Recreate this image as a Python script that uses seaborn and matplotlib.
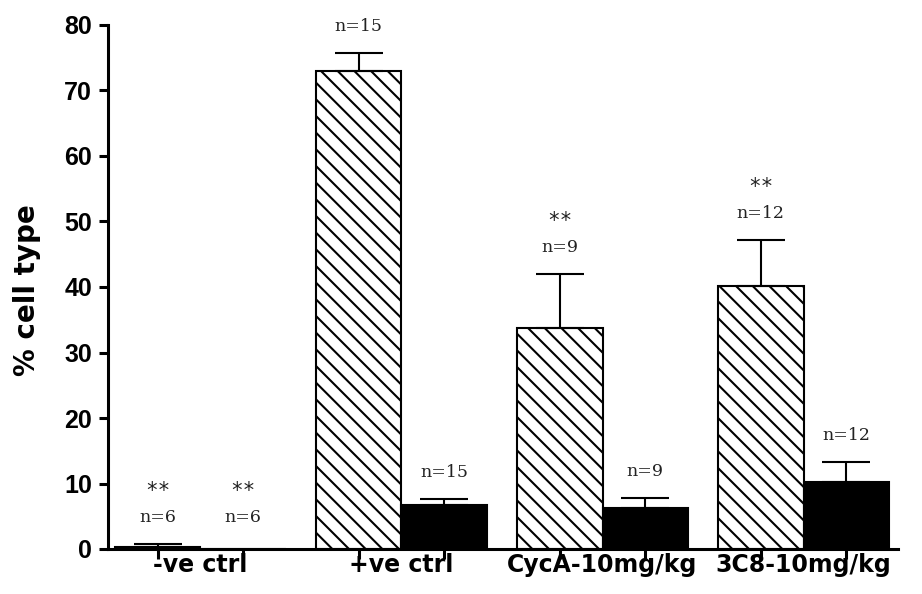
import matplotlib
matplotlib.use("Agg")
import matplotlib.pyplot as plt
import numpy as np
import pandas as pd
import seaborn as sns

# Treatment groups along the x axis
treatments = ["-ve ctrl", "+ve ctrl", "CycA-10mg/kg", "3C8-10mg/kg"]
# Two cell populations per treatment (hatched and solid bars)
series = ["population 1", "population 2"]

# Mean % of cells and upper error (SEM) for each population
pct_hatched = [0.3, 73.0, 33.7, 40.2]
pct_solid = [0.0, 6.7, 6.3, 10.2]
sem_hatched = [0.4, 2.7, 8.3, 7.0]
sem_solid = [0.0, 0.9, 1.5, 3.1]

# Sample sizes and significance markers shown above the bars
n_hatched = [6, 15, 9, 12]
n_solid = [6, 15, 9, 12]
sig_hatched = ["**", "", "**", "**"]
sig_solid = ["**", "", "", ""]

yticks = list(range(0, 81, 10))

df = pd.DataFrame({
    "treatment": treatments + treatments,
    "series": [series[0]] * len(treatments) + [series[1]] * len(treatments),
    "pct": pct_hatched + pct_solid,
})

sns.set_style("ticks")
plt.rcParams["font.family"] = ["DejaVu Sans"]
plt.rcParams["text.color"] = "black"
plt.rcParams["axes.labelcolor"] = "black"
plt.rcParams["xtick.color"] = "black"
plt.rcParams["ytick.color"] = "black"
plt.rcParams["hatch.linewidth"] = 1.5
plt.rcParams["hatch.color"] = "black"

fig = plt.figure(figsize=(9.22, 5.94), dpi=100)
ax = fig.add_axes([108 / 922, 1 - 549 / 594, 790 / 922, 524 / 594])

sns.barplot(
    data=df, x="treatment", y="pct", hue="series",
    order=treatments, hue_order=series,
    palette=["white", "black"], saturation=1,
    width=0.85, errorbar=None, edgecolor="black", linewidth=1.5,
    legend=False, ax=ax,
)

sems = [sem_hatched, sem_solid]
ns = [n_hatched, n_solid]
sigs = [sig_hatched, sig_solid]
bar_centers = []

bar_containers = list(ax.containers)
for k, container in enumerate(bar_containers):
    for i, bar in enumerate(container):
        if k == 0:
            bar.set_hatch("\\\\")
        bar.set_edgecolor("black")
        xc = bar.get_x() + bar.get_width() / 2
        h = bar.get_height()
        bar_centers.append(xc)
        err = sems[k][i]
        if err > 0:
            ax.errorbar([xc], [h], yerr=[[0], [err]], fmt="none",
                        ecolor="black", elinewidth=1.5, capsize=17,
                        capthick=1.5, zorder=1)
        # labels sit just above the error cap (or above the axis line)
        top = max(h + err, 0.8)
        ax.annotate(f"n={ns[k][i]}", (xc, top), xytext=(0, 19),
                    textcoords="offset points", ha="center", va="center",
                    fontfamily="DejaVu Serif", fontsize=12.5,
                    color="#222222", annotation_clip=False)
        if sigs[k][i]:
            ax.annotate(sigs[k][i], (xc, top), xytext=(0, 38),
                        textcoords="offset points", ha="center", va="center",
                        fontfamily="DejaVu Sans Mono", fontsize=15,
                        color="#222222", annotation_clip=False)

ax.set_xlim(-0.46, 3.47)
ax.set_ylim(0, 80)

ax.set_xticks(range(len(treatments)))
ax.set_xticklabels(treatments, fontfamily="DejaVu Sans",
                   fontweight="bold", fontsize=17)
ax.set_xticks(sorted(bar_centers), minor=True)
ax.tick_params(axis="x", which="major", length=0, pad=3)
ax.tick_params(axis="x", which="minor", length=7, width=2.2,
               direction="out", bottom=True)

ax.set_yticks(yticks)
ax.set_yticklabels([str(v) for v in yticks], fontfamily="Liberation Sans",
                   fontweight="bold", fontsize=18)
ax.tick_params(axis="y", length=6.5, width=2.2, pad=5, direction="out")

ax.set_xlabel("")
ax.set_ylabel("% cell type", fontfamily="DejaVu Sans",
              fontweight="bold", fontsize=20)
ax.yaxis.label.set_verticalalignment("center")
ax.yaxis.set_label_coords(-0.103, 0.494)

sns.despine(ax=ax)
for side in ("left", "bottom"):
    ax.spines[side].set_linewidth(2.2)
    ax.spines[side].set_color("black")

fig.savefig("out.png", dpi=100, facecolor="white")
